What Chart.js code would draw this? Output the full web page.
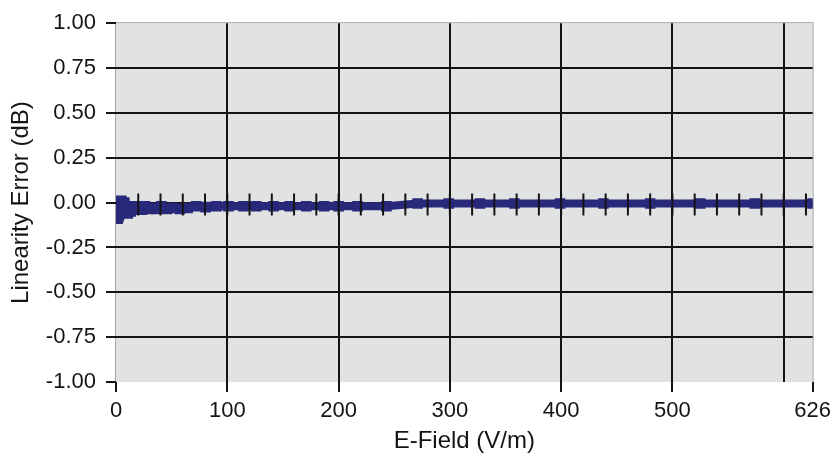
<!DOCTYPE html>
<html>
<head>
<meta charset="utf-8">
<title>Linearity Error</title>
<script src="https://cdn.jsdelivr.net/npm/chart.js@4.4.1/dist/chart.umd.min.js"></script>
<style>
    html, body { margin: 0; padding: 0; background: #ffffff; }
    #wrap { width: 837px; height: 469px; }
</style>
</head>
<body>
<div id="wrap"><canvas id="linChart" width="837" height="469"></canvas></div>
<script>
/* ===============================
   Data
=============================== */

// measured field levels (V/m)
const fieldE = [
    1, 1.2, 1.4, 1.6, 1.8, 2, 2.3, 2.6, 3, 3.4, 3.8, 4.3, 4.8, 5.4, 6, 6.7,
    7.5, 8.4, 9.4, 10.5, 11.8, 13.2, 14.8, 16.6, 18.6, 20.8, 23.3, 26, 29,
    32.5, 36.4, 40.8, 45.7, 51.2, 57.4, 64.3, 72, 80.6, 90.3, 101, 114.5,
    126, 141.6, 156, 171, 187, 200, 217, 243, 271, 299, 327, 358, 399, 438,
    480, 525, 574, 626
];

// linearity error (dB) at each level
const linErr = [
    -0.09, -0.08, -0.09, -0.07, -0.06, -0.08, -0.05, -0.07, -0.04, -0.06,
    -0.02, -0.05, 0.01, -0.03, -0.02, -0.04, 0.00, -0.05, -0.03, -0.06,
    -0.02, -0.05, -0.04, -0.02, -0.04, -0.03, -0.04, -0.02, -0.035, -0.03,
    -0.035, -0.02, -0.035, -0.03, -0.035, -0.03, -0.02, -0.025, -0.02, -0.02,
    -0.02, -0.02, -0.02, -0.02, -0.02, -0.02, -0.02, -0.02, -0.02, -0.005,
    -0.005, -0.005, -0.005, -0.005, -0.005, -0.005, -0.005, -0.005, -0.005
];

// black error bar ticks along the curve
const barE = [
    20, 40, 60, 80, 100, 120, 140, 160, 180, 200, 220, 240, 260, 280, 300,
    320, 340, 360, 380, 400, 420, 440, 460, 480, 500, 520, 540, 560, 580,
    600, 620
];
const barVal = [
    -0.01, -0.01, -0.01, -0.01, -0.01, -0.01, -0.01, -0.01, -0.01, -0.01,
    -0.01, -0.01, -0.01, -0.01, -0.01, -0.01, -0.01, -0.01, -0.01, -0.01,
    -0.01, -0.01, -0.01, -0.01, -0.01, -0.01, -0.01, -0.01, -0.01, -0.01,
    -0.01
];

// axis ticks
const xTicks = [0, 100, 200, 300, 400, 500, 600, 626];
const xHiddenLabel = 600;
const yMin = -1;
const yMax = 1;
const yStep = 0.25;

/* ===============================
   Plot background
=============================== */

const plotBackground = {
    id: "plotBackground",
    beforeDraw: function (chart) {
        const a = chart.chartArea;
        const ctx = chart.ctx;
        ctx.save();
        ctx.fillStyle = "#e1e2e2";
        ctx.fillRect(a.left, a.top, a.right - a.left, a.bottom - a.top);
        ctx.strokeStyle = "#a4a4a4";
        ctx.lineWidth = 1;
        ctx.beginPath();
        ctx.moveTo(a.left - 0.5, a.bottom);
        ctx.lineTo(a.left - 0.5, a.top - 0.5);
        ctx.lineTo(a.right + 0.5, a.top - 0.5);
        ctx.lineTo(a.right + 0.5, a.bottom);
        ctx.stroke();
        ctx.restore();
    }
};

/* ===============================
   Chart
=============================== */

const navy = "#28297a";
const ink = "#141414";

new Chart(document.getElementById("linChart"), {
    type: "line",
    data: {
        datasets: [
            {
                label: "Error bars",
                type: "scatter",
                data: barE.map(function (e, i) { return { x: e, y: barVal[i] }; }),
                showLine: false,
                pointStyle: "line",
                rotation: 90,
                pointRadius: 11,
                pointBorderColor: ink,
                pointBorderWidth: 2,
                clip: 0
            },
            {
                label: "Linearity Error",
                data: fieldE.map(function (e, i) { return { x: e, y: linErr[i] }; }),
                borderColor: navy,
                borderWidth: 8,
                borderJoinStyle: "bevel",
                pointStyle: "rect",
                pointRadius: 7.5,
                pointBackgroundColor: navy,
                pointBorderWidth: 0,
                tension: 0,
                clip: 0
            }
        ]
    },
    options: {
        responsive: false,
        animation: false,
        events: [],
        layout: {
            padding: { top: 22, right: 24, left: 0, bottom: 0 }
        },
        plugins: {
            legend: { display: false },
            tooltip: { enabled: false }
        },
        scales: {
            x: {
                type: "linear",
                min: 0,
                max: 626,
                afterBuildTicks: function (scale) {
                    scale.ticks = xTicks.map(function (v) { return { value: v }; });
                },
                afterFit: function (scale) {
                    scale.height = 87;
                },
                ticks: {
                    autoSkip: false,
                    maxRotation: 0,
                    padding: 6,
                    color: ink,
                    font: { family: "Liberation Sans, Arial, sans-serif", size: 22 },
                    callback: function (v) {
                        return v === xHiddenLabel ? "" : String(v);
                    }
                },
                grid: {
                    lineWidth: 2,
                    tickLength: 10,
                    tickWidth: 2,
                    color: function (c) {
                        const v = c.tick ? c.tick.value : null;
                        return (v === 0 || v === 626) ? "rgba(0,0,0,0)" : ink;
                    },
                    tickColor: function (c) {
                        const v = c.tick ? c.tick.value : null;
                        return v === xHiddenLabel ? "rgba(0,0,0,0)" : ink;
                    }
                },
                border: { display: false },
                title: {
                    display: true,
                    text: "E-Field (V/m)",
                    color: ink,
                    font: { family: "Liberation Sans, Arial, sans-serif", size: 24 },
                    padding: { top: 0, bottom: 13 }
                }
            },
            y: {
                min: yMin,
                max: yMax,
                afterFit: function (scale) {
                    scale.width = 116;
                },
                ticks: {
                    stepSize: yStep,
                    padding: 10,
                    color: ink,
                    font: { family: "Liberation Sans, Arial, sans-serif", size: 22 },
                    callback: function (v) {
                        return Number(v).toFixed(2);
                    }
                },
                grid: {
                    lineWidth: 2,
                    tickLength: 10,
                    tickWidth: 2,
                    color: function (c) {
                        const v = c.tick ? c.tick.value : null;
                        return (v === yMin || v === yMax) ? "rgba(0,0,0,0)" : ink;
                    },
                    tickColor: ink
                },
                border: { display: false },
                title: {
                    display: true,
                    text: "Linearity Error (dB)",
                    color: ink,
                    font: { family: "Liberation Sans, Arial, sans-serif", size: 24 },
                    padding: { top: 7, bottom: 0 }
                }
            }
        }
    },
    plugins: [plotBackground]
});
</script>
</body>
</html>
